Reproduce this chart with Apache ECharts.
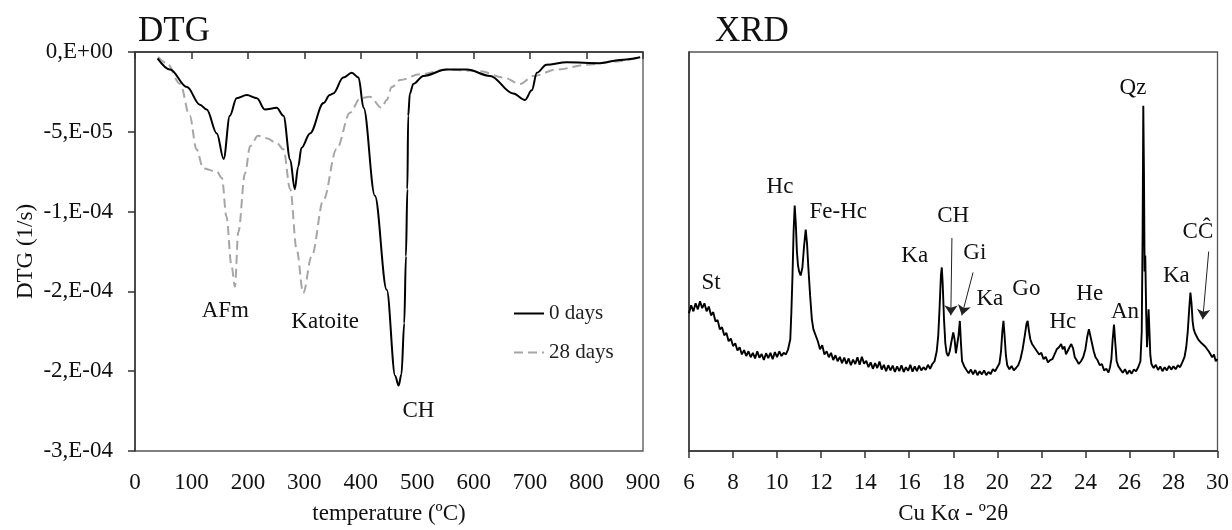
<!DOCTYPE html>
<html>
<head>
<meta charset="utf-8">
<script src="https://cdn.jsdelivr.net/npm/echarts@6/dist/echarts.min.js"></script>
<style>
  html, body { margin: 0; padding: 0; background: #fff; }
  #chart { width: 1232px; height: 530px; }
</style>
</head>
<body>
<div id="chart"></div>
<script>
// DTG values are in units of 1e-5 (1/s), temperature in ºC
const dtg0Days = [
  [40, -0.4], [62, -1.1], [92, -2.2], [115, -3.3], [127, -3.6], [145, -5.1], [157, -6.7],
  [168, -4.0], [180, -2.9], [198, -2.7], [216, -2.9], [230, -3.6], [251, -3.5], [263, -4.0],
  [275, -6.75], [283, -8.6], [289, -7.2], [295, -6.0], [310, -5.1], [334, -3.2], [345, -2.7],
  [351, -2.6], [369, -1.6], [384, -1.3], [396, -1.6], [405, -3.5], [425, -9.0], [446, -14.9],
  [461, -20.3], [467, -20.9], [472, -20.2], [477, -17.0], [480, -12.8], [482.5, -8.6],
  [484, -4.0], [487, -2.6], [493, -2.0], [511, -1.5], [552, -1.1], [588, -1.1], [629, -1.5],
  [670, -2.6], [691, -3.0], [703, -2.4], [712, -1.3], [729, -0.8], [765, -0.65], [824, -0.7],
  [859, -0.5], [895, -0.33]
];
const dtg28Days = [
  [41, -0.3], [56, -0.7], [80, -2.0], [97, -4.0], [109, -6.1], [121, -7.3], [145, -7.5],
  [154, -7.9], [162, -10.3], [171, -13.4], [177, -14.7], [183, -11.3], [195, -7.6], [204, -5.9],
  [218, -5.25], [233, -5.4], [251, -5.7], [263, -6.1], [275, -8.6], [286.5, -12.4], [298, -15.1],
  [313, -12.8], [334, -9.25], [357, -6.1], [381, -3.8], [399, -2.9], [416, -2.8], [437, -3.5],
  [446, -3.0], [455, -2.2], [470, -1.75], [505, -1.4], [552, -1.1], [611, -1.2], [653, -1.6],
  [682, -2.0], [706, -1.5], [747, -1.1], [800, -0.8], [848, -0.6], [895, -0.33]
];
const dtgTickLabels = ['0,E+00', '-5,E-05', '-1,E-04', '-2,E-04', '-2,E-04', '-3,E-04'];
const dtgLabels = [['AFm', 160, -16.2], ['Katoite', 337, -16.9], ['CH', 502, -22.5]];

// XRD pattern, relative intensity vs º2θ
const xrdPattern = [
  [6.0, 34.5], [6.1, 36.5], [6.2, 35], [6.3, 37], [6.4, 35.5], [6.5, 37.5], [6.6, 35.8], [6.7, 37],
  [6.8, 35], [6.9, 36.2], [7.0, 34], [7.1, 34.8], [7.2, 32.5], [7.3, 32.8], [7.4, 30.5], [7.5, 31],
  [7.6, 29], [7.7, 29.6], [7.8, 27.5], [7.9, 28.2], [8.0, 26.3], [8.1, 27], [8.2, 25.2], [8.3, 26],
  [8.4, 24.2], [8.5, 25.3], [8.6, 23.8], [8.7, 25], [8.8, 23.5], [8.9, 24.6], [9.0, 23.2], [9.1, 25],
  [9.2, 23.4], [9.3, 24.3], [9.4, 22.8], [9.5, 24.5], [9.6, 23.3], [9.7, 24.6], [9.8, 23], [9.9, 24.8],
  [10.0, 23.5], [10.1, 25], [10.2, 23.8], [10.3, 24.6], [10.4, 24.2], [10.5, 25.5], [10.6, 28],
  [10.65, 35], [10.7, 44], [10.75, 55], [10.8, 61.5], [10.85, 57], [10.9, 50], [10.95, 46.5],
  [11.0, 45], [11.07, 44], [11.15, 46], [11.22, 51], [11.3, 55.5], [11.36, 52], [11.42, 46],
  [11.5, 39], [11.58, 33], [11.65, 30.5], [11.75, 29], [11.85, 27.5], [11.95, 25.5], [12.05, 26.5],
  [12.15, 24.2], [12.25, 25], [12.35, 23.5], [12.45, 24.6], [12.55, 22.8], [12.65, 24], [12.75, 22.5],
  [12.85, 23.6], [12.95, 22], [13.05, 23.4], [13.15, 21.8], [13.25, 23.2], [13.35, 21.5], [13.45, 22.9],
  [13.55, 21.8], [13.65, 23.5], [13.75, 21.6], [13.85, 23.6], [13.95, 21.9], [14.05, 22.6], [14.15, 21],
  [14.25, 22.2], [14.35, 20.6], [14.45, 22], [14.55, 20.8], [14.65, 22.4], [14.75, 20.4], [14.85, 21.6],
  [14.95, 20], [15.05, 21.5], [15.15, 20.2], [15.25, 21.4], [15.35, 19.8], [15.45, 21.2], [15.55, 20],
  [15.65, 21.5], [15.75, 19.8], [15.85, 21], [15.95, 20.1], [16.05, 21.6], [16.15, 19.9], [16.25, 21.2],
  [16.35, 20], [16.45, 21.4], [16.55, 20.2], [16.65, 21], [16.75, 20.3], [16.85, 21.6], [16.95, 20.6],
  [17.05, 21.8], [17.15, 22.5], [17.25, 25], [17.32, 29], [17.38, 36], [17.44, 44], [17.48, 46],
  [17.52, 42], [17.58, 33], [17.64, 27], [17.7, 24.5], [17.77, 23.8], [17.84, 25], [17.92, 27.5],
  [18.0, 29.7], [18.06, 28], [18.12, 24.5], [18.18, 25], [18.24, 29], [18.3, 32.6], [18.35, 27],
  [18.4, 22.5], [18.5, 21.2], [18.6, 20.3], [18.7, 19.5], [18.8, 20.4], [18.9, 19.2], [19.0, 20.3],
  [19.1, 19], [19.2, 20], [19.3, 19.2], [19.4, 20.2], [19.5, 19], [19.6, 19.8], [19.7, 19.3],
  [19.8, 20.5], [19.9, 20], [20.0, 21], [20.1, 22], [20.17, 25], [20.23, 30], [20.28, 32.6],
  [20.33, 29], [20.39, 24], [20.45, 21.5], [20.55, 20.5], [20.65, 21.3], [20.75, 20.2], [20.85, 20.8],
  [20.95, 21.5], [21.05, 23], [21.15, 25.5], [21.25, 29], [21.33, 32], [21.38, 32.6], [21.44, 30],
  [21.5, 28], [21.58, 26.8], [21.66, 27.2], [21.74, 25.5], [21.82, 25.8], [21.9, 24.2], [22.0, 24.6],
  [22.1, 23], [22.2, 23.6], [22.3, 22.2], [22.4, 22.8], [22.5, 23], [22.6, 24.2], [22.7, 25.5],
  [22.8, 26], [22.9, 26.8], [22.97, 25.5], [23.05, 26.2], [23.12, 24.2], [23.2, 24.5], [23.28, 26],
  [23.36, 26.8], [23.44, 25.8], [23.52, 23.5], [23.6, 22.8], [23.7, 21.8], [23.8, 22.5], [23.9, 23.5],
  [24.0, 25.5], [24.08, 28.5], [24.16, 30.5], [24.22, 30], [24.3, 27], [24.38, 25], [24.46, 23.5],
  [24.55, 22.8], [24.65, 21.5], [24.75, 21.8], [24.85, 20.2], [24.95, 20.6], [25.05, 19.7], [25.12, 21],
  [25.18, 23], [25.24, 28], [25.3, 31.7], [25.36, 27], [25.42, 22.5], [25.5, 21.2], [25.6, 20.4],
  [25.7, 19.6], [25.8, 20.5], [25.9, 19.3], [26.0, 20.2], [26.1, 19.4], [26.2, 20.4], [26.3, 20],
  [26.4, 21], [26.5, 22.5], [26.56, 30], [26.6, 55], [26.63, 86.5], [26.66, 70], [26.69, 45],
  [26.72, 49], [26.76, 35], [26.8, 26], [26.84, 30], [26.87, 35.5], [26.91, 30], [26.95, 24],
  [27.0, 21.8], [27.1, 20.8], [27.2, 21.6], [27.3, 20.3], [27.4, 21.2], [27.5, 20], [27.6, 21],
  [27.7, 20.2], [27.8, 21.3], [27.9, 20.4], [28.0, 21.2], [28.1, 20.5], [28.2, 21.5], [28.3, 21],
  [28.4, 22.2], [28.5, 23.5], [28.58, 26], [28.65, 30], [28.72, 36], [28.77, 39.7], [28.82, 37],
  [28.87, 32.5], [28.92, 30.5], [28.98, 29.5], [29.05, 29.2], [29.12, 28], [29.2, 28.2], [29.28, 27],
  [29.36, 27.3], [29.44, 26.2], [29.52, 26.3], [29.6, 25], [29.68, 25.2], [29.76, 23.5], [29.84, 24.2],
  [29.92, 22.5], [30.0, 23]
];
const xrdLabels = [
  ['St', 7.0, 42], ['Hc', 10.13, 66.3], ['Fe-Hc', 12.78, 60], ['Ka', 16.25, 49], ['CH', 18.0, 58.8],
  ['Gi', 18.98, 49.7], ['Ka', 19.66, 38], ['Go', 21.32, 40.5], ['Hc', 22.98, 32.3], ['He', 24.2, 39.3],
  ['An', 25.8, 34.8], ['Qz', 26.16, 91], ['Ka', 28.13, 43.8], ['CĈ', 29.11, 55]
];
const xrdArrows = [
  [[17.94, 53.4], [17.89, 34]],
  [[18.9, 44.75], [18.39, 34]],
  [[29.6, 50], [29.33, 33]]
];

const serif = 'Liberation Serif';
const textColor = '#111';
const fontSize = 23;

const chart = echarts.init(document.getElementById('chart'));

const labelPoints = (list) => list.map(([name, x, y]) => ({ name, coord: [x, y] }));
const annotationStyle = {
  show: true, position: 'inside', formatter: '{b}', fontFamily: serif, fontSize: fontSize, color: textColor
};

chart.setOption({
  animation: false,
  backgroundColor: '#fff',
  textStyle: { fontFamily: serif, color: textColor },
  title: [
    { text: 'DTG', left: 133, top: 9, textStyle: { fontFamily: serif, fontSize: 35, fontWeight: 'normal', color: textColor } },
    { text: 'XRD', left: 710, top: 9, textStyle: { fontFamily: serif, fontSize: 35, fontWeight: 'normal', color: textColor } }
  ],
  legend: {
    data: ['0 days', '28 days'],
    orient: 'vertical',
    left: 508,
    top: 298,
    itemWidth: 30,
    itemHeight: 14,
    itemGap: 18,
    itemStyle: { opacity: 0 },
    textStyle: { fontFamily: serif, fontSize: 21, color: '#222', lineHeight: 21 }
  },
  grid: [
    { left: 135, top: 52, width: 508, height: 400, show: true, borderColor: '#555', borderWidth: 1.3 },
    { left: 689, top: 52, width: 529, height: 400, show: true, borderColor: '#555', borderWidth: 1.3 }
  ],
  xAxis: [
    {
      gridIndex: 0, type: 'value', min: 0, max: 900, interval: 100,
      name: 'temperature (ºC)', nameLocation: 'middle', nameGap: 51,
      nameTextStyle: { fontFamily: serif, fontSize: fontSize, color: textColor },
      axisLine: { lineStyle: { color: '#333', width: 1.5 } },
      axisTick: { show: true, length: 7, lineStyle: { color: '#333', width: 1.5 } },
      axisLabel: { fontFamily: serif, fontSize: fontSize, color: textColor, margin: 20 },
      splitLine: { show: false }
    },
    {
      gridIndex: 1, type: 'value', min: 6, max: 30, interval: 2,
      name: 'Cu Kα - º2θ', nameLocation: 'middle', nameGap: 51,
      nameTextStyle: { fontFamily: serif, fontSize: fontSize, color: textColor },
      axisLine: { lineStyle: { color: '#333', width: 1.5 } },
      axisTick: { show: true, length: 7, lineStyle: { color: '#333', width: 1.5 } },
      axisLabel: { fontFamily: serif, fontSize: fontSize, color: textColor, margin: 20 },
      splitLine: { show: false }
    }
  ],
  yAxis: [
    {
      gridIndex: 0, type: 'value', min: -25, max: 0, interval: 5,
      name: 'DTG (1/s)', nameLocation: 'middle', nameGap: 98,
      nameTextStyle: { fontFamily: serif, fontSize: fontSize, color: textColor },
      axisLine: { show: true, lineStyle: { color: '#333', width: 1.5 } },
      axisTick: { show: true, length: 7, lineStyle: { color: '#333', width: 1.5 } },
      axisLabel: {
        fontFamily: serif, fontSize: fontSize, color: textColor, margin: 22,
        formatter: (v) => dtgTickLabels[Math.round(-v / 5)]
      },
      splitLine: { show: false }
    },
    {
      gridIndex: 1, type: 'value', min: 0, max: 100,
      axisLine: { show: true, lineStyle: { color: '#333', width: 1.5 } },
      axisTick: { show: false },
      axisLabel: { show: false },
      splitLine: { show: false }
    }
  ],
  series: [
    {
      name: '0 days', type: 'line', xAxisIndex: 0, yAxisIndex: 0,
      data: dtg0Days, showSymbol: false, symbol: 'none', smooth: 0.35, smoothMonotone: 'x',
      lineStyle: { color: '#000', width: 2 }, itemStyle: { color: '#000' }, z: 3,
      markPoint: {
        symbol: 'circle', symbolSize: 1, itemStyle: { color: 'rgba(0,0,0,0)' }, silent: true,
        label: annotationStyle,
        data: labelPoints(dtgLabels)
      }
    },
    {
      name: '28 days', type: 'line', xAxisIndex: 0, yAxisIndex: 0,
      data: dtg28Days, showSymbol: false, symbol: 'none', smooth: 0.35, smoothMonotone: 'x',
      lineStyle: { color: '#a6a6a6', width: 2, type: [9, 5] }, itemStyle: { color: '#a6a6a6' }, z: 2
    },
    {
      name: 'XRD', type: 'line', xAxisIndex: 1, yAxisIndex: 1,
      data: xrdPattern, showSymbol: false, symbol: 'none',
      lineStyle: { color: '#000', width: 1.9 },
      markPoint: {
        symbol: 'circle', symbolSize: 1, itemStyle: { color: 'rgba(0,0,0,0)' }, silent: true,
        label: annotationStyle,
        data: labelPoints(xrdLabels)
      },
      markLine: {
        silent: true, symbol: ['none', 'arrow'], symbolSize: 10,
        lineStyle: { color: '#222', width: 1, type: 'solid' },
        label: { show: false },
        data: xrdArrows.map(([a, b]) => [{ coord: a }, { coord: b }])
      }
    }
  ]
});

window.addEventListener('resize', () => chart.resize());
</script>
</body>
</html>
